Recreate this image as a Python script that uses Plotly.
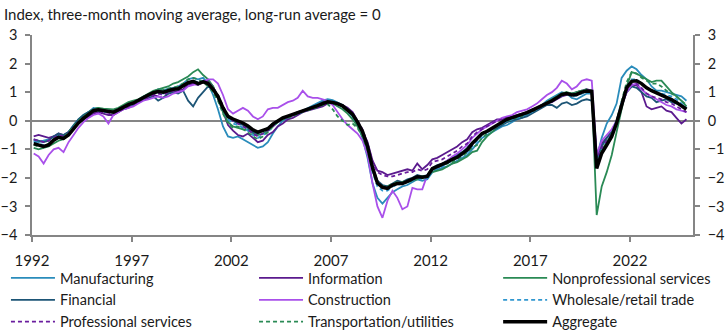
import pandas as pd
import plotly.graph_objects as go

# Quarterly observations (Feb, May, Aug, Nov) from Feb 1992 through Nov 2024
dates = pd.date_range("1992-02-01", periods=132, freq="3MS")

manufacturing = [
    -0.70, -0.75, -0.70, -0.65, -0.55, -0.50, -0.55, -0.40, -0.15, 0.05, 0.20, 0.30,
    0.45, 0.42, 0.38, 0.35, 0.32, 0.40, 0.50, 0.55, 0.60, 0.70, 0.85, 0.92,
    1.00, 1.10, 1.05, 1.12, 1.15, 1.20, 1.30, 1.45, 1.50, 1.45, 1.50, 1.30,
    0.90, 0.40, -0.20, -0.55, -0.60, -0.55, -0.65, -0.75, -0.85, -0.95, -0.90, -0.75,
    -0.45, -0.20, 0.00, 0.10, 0.20, 0.30, 0.35, 0.45, 0.55, 0.62, 0.70, 0.75,
    0.72, 0.65, 0.55, 0.40, 0.15, -0.15, -0.60, -1.30, -2.20, -2.70, -2.90, -2.70,
    -2.50, -2.40, -2.30, -2.25, -2.15, -2.05, -2.10, -2.05, -1.80, -1.70, -1.65, -1.60,
    -1.50, -1.40, -1.30, -1.20, -1.00, -0.80, -0.60, -0.50, -0.40, -0.30, -0.20, -0.15,
    -0.05, 0.05, 0.10, 0.20, 0.30, 0.40, 0.55, 0.70, 0.80, 0.90, 1.00, 0.95,
    0.80, 0.75, 0.85, 0.95, 0.95, -1.30, -0.60, -0.10, 0.20, 0.60, 1.50, 1.75,
    1.90, 1.80, 1.60, 1.45, 1.20, 1.05, 1.05, 1.00, 0.95, 0.90, 0.85, 0.70,
]

information = [
    -0.55, -0.50, -0.55, -0.60, -0.55, -0.45, -0.50, -0.40, -0.20, -0.05, 0.05, 0.15,
    0.25, 0.30, 0.25, 0.20, 0.20, 0.30, 0.40, 0.45, 0.55, 0.65, 0.75, 0.85,
    0.90, 0.85, 0.80, 0.95, 1.00, 1.05, 1.10, 1.25, 1.30, 1.25, 1.35, 1.40,
    1.20, 0.80, 0.30, -0.15, -0.35, -0.50, -0.55, -0.45, -0.60, -0.75, -0.70, -0.50,
    -0.40, -0.20, -0.10, 0.05, 0.10, 0.20, 0.30, 0.35, 0.40, 0.45, 0.50, 0.60,
    0.62, 0.58, 0.55, 0.45, 0.30, 0.00, -0.35, -0.75, -1.40, -1.75, -1.80, -1.90,
    -1.85, -1.80, -1.75, -1.70, -1.75, -1.50, -1.70, -1.55, -1.35, -1.30, -1.20, -1.10,
    -1.00, -0.90, -0.75, -0.65, -0.40, -0.30, -0.25, -0.15, -0.05, 0.05, 0.05, 0.10,
    0.15, 0.20, 0.25, 0.30, 0.40, 0.45, 0.55, 0.60, 0.65, 0.75, 0.85, 0.90,
    0.95, 1.00, 1.05, 1.10, 1.05, -1.20, -0.80, -0.60, -0.40, -0.10, 0.50, 1.00,
    1.20, 1.25, 1.00, 0.50, 0.40, 0.45, 0.50, 0.35, 0.30, 0.10, -0.10, 0.05,
]

nonprofessional = [
    -0.95, -1.00, -0.95, -0.90, -0.80, -0.70, -0.65, -0.45, -0.25, 0.00, 0.15, 0.30,
    0.40, 0.45, 0.42, 0.40, 0.40, 0.45, 0.55, 0.65, 0.70, 0.75, 0.85, 0.95,
    1.05, 1.10, 1.15, 1.20, 1.30, 1.35, 1.45, 1.55, 1.70, 1.80, 1.60, 1.45,
    1.20, 0.80, 0.30, -0.05, -0.20, -0.25, -0.30, -0.30, -0.45, -0.50, -0.45, -0.35,
    -0.20, -0.05, 0.05, 0.15, 0.20, 0.30, 0.35, 0.40, 0.45, 0.55, 0.60, 0.65,
    0.60, 0.50, 0.40, 0.25, 0.05, -0.20, -0.55, -1.00, -1.70, -2.15, -2.30, -2.30,
    -2.25, -2.20, -2.20, -2.15, -2.10, -2.05, -2.00, -1.95, -1.80, -1.75, -1.70, -1.60,
    -1.50, -1.45, -1.35, -1.25, -1.10, -1.05, -0.75, -0.55, -0.40, -0.25, -0.10, 0.00,
    0.05, 0.10, 0.15, 0.25, 0.35, 0.45, 0.55, 0.65, 0.75, 0.85, 0.95, 1.00,
    0.95, 1.00, 1.05, 1.05, 1.05, -3.30, -2.30, -1.80, -1.20, -0.40, 0.40, 1.20,
    1.70, 1.65, 1.55, 1.45, 1.35, 1.40, 1.40, 1.20, 1.00, 0.85, 0.70, 0.50,
]

financial = [
    -0.65, -0.70, -0.75, -0.70, -0.55, -0.45, -0.50, -0.40, -0.15, 0.05, 0.20, 0.30,
    0.40, 0.38, 0.35, 0.30, 0.30, 0.35, 0.45, 0.55, 0.60, 0.70, 0.75, 0.80,
    0.85, 0.70, 0.80, 0.95, 1.00, 0.95, 1.05, 0.70, 0.50, 0.80, 1.00, 1.20,
    1.10, 0.85, 0.40, 0.10, 0.00, -0.10, -0.15, -0.25, -0.40, -0.45, -0.35, -0.25,
    -0.10, 0.00, 0.10, 0.15, 0.20, 0.25, 0.35, 0.40, 0.45, 0.55, 0.65, 0.70,
    0.65, 0.60, 0.50, 0.35, 0.20, -0.05, -0.35, -0.85, -1.60, -2.10, -2.25, -2.30,
    -2.20, -2.10, -2.15, -2.05, -2.00, -1.90, -1.95, -1.90, -1.65, -1.55, -1.50, -1.40,
    -1.30, -1.20, -1.10, -0.95, -0.75, -0.60, -0.45, -0.40, -0.30, -0.25, -0.15, -0.05,
    0.00, 0.05, 0.10, 0.15, 0.25, 0.35, 0.45, 0.55, 0.55, 0.45, 0.60, 0.65,
    0.55, 0.60, 0.70, 0.75, 0.70, -1.40, -0.90, -0.60, -0.40, 0.00, 0.60, 1.00,
    1.20, 1.15, 1.00, 0.85, 0.80, 0.65, 0.70, 0.75, 0.65, 0.60, 0.55, 0.45,
]

construction = [
    -1.15, -1.25, -1.50, -1.20, -1.00, -0.95, -1.10, -0.75, -0.50, -0.25, -0.05, 0.10,
    0.20, 0.25, 0.15, -0.10, 0.20, 0.30, 0.40, 0.45, 0.50, 0.60, 0.70, 0.75,
    0.80, 0.85, 0.80, 0.85, 0.95, 1.00, 1.05, 1.20, 1.25, 1.30, 1.35, 1.45,
    1.45, 1.30, 0.90, 0.40, 0.25, 0.35, 0.45, 0.35, 0.15, 0.05, 0.15, 0.40,
    0.45, 0.45, 0.55, 0.65, 0.70, 0.80, 1.05, 0.85, 0.80, 0.80, 0.75, 0.70,
    0.55, 0.30, 0.05, -0.15, -0.30, -0.45, -0.70, -1.20, -2.20, -3.00, -3.40, -2.80,
    -2.45, -2.70, -3.10, -3.00, -2.35, -2.40, -2.40, -1.90, -1.70, -1.65, -1.55, -1.40,
    -1.25, -1.15, -1.00, -0.85, -0.60, -0.45, -0.30, -0.20, -0.10, 0.00, 0.10, 0.15,
    0.20, 0.30, 0.35, 0.40, 0.50, 0.60, 0.75, 0.90, 1.00, 1.15, 1.40, 1.30,
    1.10, 1.20, 1.40, 1.45, 1.40, -1.20, -0.70, -0.50, -0.30, 0.00, 0.55, 1.00,
    1.25, 1.30, 1.10, 0.95, 0.85, 0.75, 0.65, 0.55, 0.50, 0.40, 0.35, 0.30,
]

wholesale_retail = [
    -0.75, -0.80, -0.85, -0.80, -0.65, -0.55, -0.60, -0.45, -0.25, -0.05, 0.10, 0.20,
    0.32, 0.35, 0.30, 0.30, 0.28, 0.35, 0.45, 0.52, 0.58, 0.68, 0.78, 0.88,
    0.95, 1.00, 0.95, 1.02, 1.08, 1.10, 1.20, 1.30, 1.40, 1.35, 1.40, 1.30,
    1.05, 0.75, 0.35, 0.05, -0.10, -0.15, -0.25, -0.35, -0.50, -0.60, -0.50, -0.40,
    -0.20, -0.05, 0.05, 0.15, 0.20, 0.25, 0.30, 0.38, 0.45, 0.52, 0.62, 0.68,
    0.66, 0.62, 0.52, 0.35, 0.15, -0.10, -0.45, -1.00, -1.80, -2.30, -2.45, -2.45,
    -2.30, -2.25, -2.20, -2.15, -2.10, -2.00, -2.05, -2.00, -1.75, -1.65, -1.60, -1.50,
    -1.40, -1.30, -1.20, -1.10, -0.90, -0.70, -0.50, -0.40, -0.30, -0.20, -0.10, 0.00,
    0.05, 0.10, 0.15, 0.25, 0.30, 0.40, 0.50, 0.58, 0.68, 0.78, 0.88, 0.92,
    0.85, 0.88, 0.95, 1.00, 1.00, -1.50, -1.00, -0.70, -0.45, 0.00, 0.65, 1.15,
    1.45, 1.45, 1.30, 1.15, 1.05, 1.00, 0.95, 0.90, 0.85, 0.75, 0.60, 0.45,
]

professional = [
    -0.65, -0.70, -0.75, -0.70, -0.60, -0.50, -0.55, -0.45, -0.25, -0.05, 0.05, 0.15,
    0.28, 0.32, 0.30, 0.28, 0.25, 0.33, 0.42, 0.50, 0.58, 0.66, 0.75, 0.82,
    0.90, 0.95, 0.90, 1.00, 1.05, 1.08, 1.18, 1.28, 1.35, 1.30, 1.40, 1.35,
    1.15, 0.90, 0.50, 0.15, 0.00, -0.10, -0.20, -0.30, -0.45, -0.55, -0.45, -0.35,
    -0.20, -0.05, 0.05, 0.12, 0.18, 0.25, 0.32, 0.38, 0.45, 0.52, 0.58, 0.62,
    0.62, 0.58, 0.50, 0.38, 0.22, 0.00, -0.30, -0.80, -1.45, -1.80, -1.90, -1.95,
    -1.95, -1.90, -1.85, -1.80, -1.80, -1.70, -1.75, -1.70, -1.45, -1.40, -1.35, -1.25,
    -1.15, -1.05, -0.90, -0.80, -0.55, -0.40, -0.30, -0.20, -0.10, 0.00, 0.05, 0.10,
    0.12, 0.18, 0.22, 0.30, 0.38, 0.45, 0.52, 0.60, 0.68, 0.78, 0.88, 0.92,
    0.92, 0.95, 1.02, 1.08, 1.05, -1.40, -0.95, -0.70, -0.45, -0.05, 0.55, 1.05,
    1.30, 1.30, 1.15, 0.95, 0.85, 0.80, 0.75, 0.65, 0.60, 0.50, 0.40, 0.30,
]

transport_utilities = [
    -0.85, -0.90, -0.90, -0.80, -0.65, -0.55, -0.60, -0.40, -0.20, 0.00, 0.15, 0.28,
    0.40, 0.45, 0.40, 0.38, 0.35, 0.42, 0.52, 0.60, 0.65, 0.72, 0.80, 0.88,
    0.98, 1.05, 1.08, 1.12, 1.18, 1.20, 1.30, 1.45, 1.50, 1.45, 1.35, 1.20,
    1.00, 0.70, 0.25, -0.10, -0.25, -0.20, -0.30, -0.40, -0.55, -0.65, -0.55, -0.40,
    -0.20, -0.05, 0.05, 0.10, 0.15, 0.25, 0.30, 0.35, 0.42, 0.48, 0.55, 0.58,
    0.40, 0.15, 0.00, -0.15, -0.10, -0.25, -0.55, -1.05, -1.75, -2.20, -2.30, -2.30,
    -2.20, -2.15, -2.15, -2.10, -2.05, -1.95, -1.95, -1.90, -1.70, -1.65, -1.55, -1.50,
    -1.45, -1.35, -1.25, -1.10, -0.95, -0.85, -0.60, -0.45, -0.30, -0.20, -0.10, 0.00,
    0.05, 0.12, 0.18, 0.25, 0.32, 0.42, 0.52, 0.62, 0.72, 0.85, 0.95, 1.00,
    0.95, 1.00, 1.05, 1.10, 1.05, -1.60, -1.05, -0.75, -0.45, 0.00, 0.70, 1.35,
    1.70, 1.65, 1.50, 1.40, 1.30, 1.30, 1.20, 1.05, 0.95, 0.85, 0.70, 0.55,
]

aggregate = [
    -0.80, -0.85, -0.90, -0.85, -0.68, -0.58, -0.62, -0.50, -0.27, -0.08, 0.08, 0.20,
    0.35, 0.38, 0.35, 0.33, 0.30, 0.38, 0.48, 0.56, 0.62, 0.72, 0.82, 0.90,
    0.98, 1.02, 1.00, 1.06, 1.10, 1.12, 1.22, 1.33, 1.38, 1.30, 1.36, 1.30,
    1.10, 0.85, 0.45, 0.15, 0.06, 0.00, -0.08, -0.18, -0.32, -0.40, -0.35, -0.28,
    -0.12, -0.02, 0.10, 0.16, 0.22, 0.28, 0.33, 0.40, 0.46, 0.53, 0.60, 0.66,
    0.64, 0.60, 0.52, 0.38, 0.22, -0.05, -0.38, -0.90, -1.65, -2.18, -2.33, -2.37,
    -2.25, -2.20, -2.20, -2.12, -2.05, -1.96, -1.98, -1.95, -1.68, -1.60, -1.55, -1.45,
    -1.35, -1.28, -1.15, -1.02, -0.80, -0.62, -0.45, -0.37, -0.25, -0.14, -0.05, 0.05,
    0.10, 0.15, 0.20, 0.28, 0.36, 0.44, 0.52, 0.60, 0.70, 0.80, 0.92, 0.95,
    0.90, 0.92, 1.00, 1.04, 1.03, -1.67, -1.14, -0.85, -0.55, -0.08, 0.55, 1.15,
    1.38, 1.40, 1.30, 1.15, 1.05, 0.98, 0.90, 0.84, 0.74, 0.64, 0.52, 0.40,
]

tick_years = ["1992", "1997", "2002", "2007", "2012", "2017", "2022"]

# (name, values, colour, dash, width, legend column)
DASH = "4px,3px"
series = [
    ("Manufacturing", manufacturing, "#2a8cbb", "solid", 1.8, "legend"),
    ("Information", information, "#5b1a8e", "solid", 1.8, "legend2"),
    ("Nonprofessional services", nonprofessional, "#2a8a55", "solid", 1.8, "legend3"),
    ("Financial", financial, "#1d5576", "solid", 1.8, "legend"),
    ("Construction", construction, "#a950ea", "solid", 1.8, "legend2"),
    ("Wholesale/retail trade", wholesale_retail, "#3097cf", DASH, 1.8, "legend3"),
    ("Professional services", professional, "#6a1d9e", DASH, 1.8, "legend"),
    ("Transportation/utilities", transport_utilities, "#2a8a55", DASH, 1.8, "legend2"),
    ("Aggregate", aggregate, "#000000", "solid", 3.5, "legend3"),
]

FONT = "Lato"
GREY = "#858585"
TEXT = "#1a1a1a"

fig = go.Figure()
for name, values, colour, dash, width, legend_id in series:
    fig.add_trace(go.Scatter(
        x=dates, y=values, name=name, mode="lines", legend=legend_id,
        line=dict(color=colour, width=width, dash=dash),
    ))

# invisible companion so the right-hand axis is rendered
fig.add_trace(go.Scatter(
    x=dates, y=aggregate, yaxis="y2", mode="lines", showlegend=False,
    line=dict(width=0), opacity=0, hoverinfo="skip",
))

axis_common = dict(
    range=[-4, 3], dtick=1, showgrid=False, showline=True, linecolor=GREY,
    linewidth=1.5, ticks="outside", ticklen=5, tickcolor=GREY, tickwidth=1.5,
    tickfont=dict(family=FONT, size=14.5, color=TEXT), ticklabelstandoff=5,
)

legend_common = dict(
    orientation="v", xanchor="left", y=-0.135, yanchor="top", itemwidth=44,
    font=dict(family=FONT, size=14.5, color=TEXT), bgcolor="rgba(0,0,0,0)",
    traceorder="normal",
)

fig.update_layout(
    width=725, height=333,
    margin=dict(l=32, r=32, t=35, b=98, autoexpand=False),
    plot_bgcolor="white", paper_bgcolor="white",
    font=dict(family=FONT, size=14, color=TEXT),
    showlegend=True,
    xaxis=dict(
        type="date", range=["1992-01-01", "2025-03-01"],
        tickvals=[f"{y}-01-01" for y in tick_years], ticktext=tick_years,
        showgrid=False, showline=True, linecolor=GREY, linewidth=1.5,
        ticks="outside", ticklen=5, tickcolor=GREY, tickwidth=1.5,
        tickfont=dict(family=FONT, size=15, color=TEXT), ticklabelstandoff=6,
        zeroline=False,
    ),
    yaxis=dict(**axis_common, zeroline=True, zerolinecolor=GREY, zerolinewidth=1.5),
    yaxis2=dict(**axis_common, overlaying="y", side="right", zeroline=False),
    legend=dict(x=-0.0394, **legend_common),
    legend2=dict(x=0.3359, **legend_common),
    legend3=dict(x=0.7052, **legend_common),
    annotations=[dict(
        text="Index, three-month moving average, long-run average = 0",
        xref="paper", yref="paper", x=-0.045, y=1.105,
        xanchor="left", yanchor="middle", showarrow=False,
        font=dict(family=FONT, size=15, color=TEXT),
    )],
)

fig.write_html("out.html")
